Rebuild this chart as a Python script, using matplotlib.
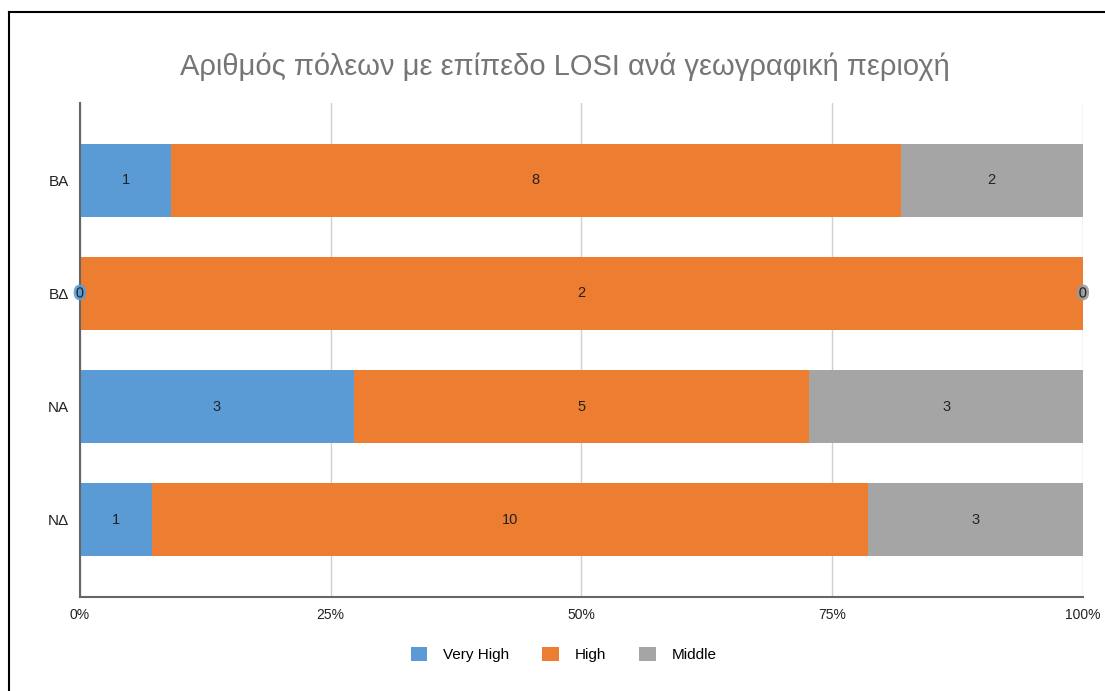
import numpy as np
import matplotlib.pyplot as plt
import matplotlib.patheffects as pe
from matplotlib.lines import Line2D
from matplotlib.patches import Patch

plt.rcParams['font.family'] = ['Liberation Sans', 'DejaVu Sans']

regions = ['BA', 'BΔ', 'NA', 'NΔ']
series = ['Very High', 'High', 'Middle']
very_high = [1, 0, 3, 1]
high = [8, 2, 5, 10]
middle = [2, 0, 3, 3]
colors = ['#5B9BD5', '#ED7D31', '#A5A5A5']
xticks = [0, 25, 50, 75, 100]
xtick_labels = ['0%', '25%', '50%', '75%', '100%']

counts = np.array([very_high, high, middle], dtype=float)
totals = counts.sum(axis=0)
shares = counts / totals * 100

fig = plt.figure(figsize=(11.05, 6.91), dpi=100)
ax = fig.add_axes([0.0724, 0.136, 0.9076, 0.715])

y = np.arange(len(regions))
left = np.zeros(len(regions))
for i, name in enumerate(series):
    ax.barh(y, shares[i], left=left, height=0.645, color=colors[i],
            label=name, zorder=2)
    for j in range(len(regions)):
        cx = left[j] + shares[i][j] / 2
        t = ax.text(cx, y[j], '%d' % counts[i][j], ha='center', va='center',
                    fontsize=10.5, color='#222222', zorder=4)
        if counts[i][j] == 0:
            # zero-width segments get a glow in their series colour
            t.set_path_effects([pe.withStroke(linewidth=4, foreground=colors[i] if i == 0 else '#9a9a9a', alpha=0.9)])
    left = left + shares[i]

ax.set_xlim(0, 100)
ax.set_ylim(3.685, -0.685)
ax.set_yticks(y)
ax.set_yticklabels(regions, fontsize=11, color='#222222')
ax.set_xticks(xticks)
ax.set_xticklabels(xtick_labels, fontsize=10, color='#222222')
ax.tick_params(length=0, pad=8)
ax.tick_params(axis='x', pad=8)
ax.grid(axis='x', color='#d0d0d0', linewidth=1, zorder=0)
ax.set_axisbelow(True)
for s in ['top', 'right']:
    ax.spines[s].set_visible(False)
ax.spines['left'].set_color('#666666')
ax.spines['bottom'].set_color('#666666')
ax.spines['left'].set_linewidth(1.5)
ax.spines['bottom'].set_linewidth(1.5)
ax.spines['left'].set_zorder(3)

fig.text(0.511, 0.903, 'Αριθμός πόλεων με επίπεδο LOSI ανά γεωγραφική περιοχή',
         ha='center', va='center', fontsize=21, color='#757575')

handles = [Patch(facecolor=c, label=s) for c, s in zip(colors, series)]
fig.legend(handles=handles, loc='center', bbox_to_anchor=(0.510, 0.053), ncol=3,
           frameon=False, fontsize=11, handlelength=1.1, handleheight=1.1,
           columnspacing=2.2, handletextpad=1.0)

fig.add_artist(Line2D([0.0081, 0.0081], [0, 0.983], transform=fig.transFigure,
                      color='black', linewidth=1.5))
fig.add_artist(Line2D([0.0081, 1.0], [0.983, 0.983], transform=fig.transFigure,
                      color='black', linewidth=1.5))

fig.savefig('out.png', dpi=100)
